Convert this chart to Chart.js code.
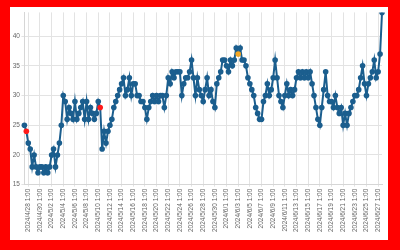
<!DOCTYPE html>
<html lang="en">
<head>
    <meta charset="UTF-8">
    <title>Series chart</title>
    <script src="https://cdn.jsdelivr.net/npm/chart.js"></script>
    <style>
        html, body {
            margin: 0;
            padding: 0;
            background: #ff0000;
            width: 400px;
            height: 250px;
            overflow: hidden;
        }
        .chart-box {
            position: absolute;
            left: 10px;
            top: 7px;
            width: 378px;
            height: 233px;
            background: #ffffff;
        }
    </style>
</head>
<body>
    <div class="chart-box">
        <canvas id="lineChart" width="378" height="233"></canvas>
    </div>

    <script>
        // readings every 8 hours, first one at 2024/4/27 9:00
        const startTime = Date.UTC(2024, 3, 27, 9);
        const stepHours = 8;

        const valuesApr = [25, 24, 22, 21, 18, 20, 18, 17, 18, 18, 17];
        const valuesMay = [
            18, 17, 18, 20, 21, 18, 20, 22, 25, 30,
            29, 26, 28, 27, 26, 29, 26, 27, 28, 29,
            26, 29, 26, 28, 27, 26, 27, 29, 28, 21,
            24, 22, 24, 25, 26, 28, 29, 30, 31, 32,
            33, 30, 31, 33, 30, 32, 32, 30, 30, 29,
            29, 28, 26, 28, 29, 30, 29, 30, 29, 30,
            30, 28, 30, 33, 32, 34, 33, 34, 34, 34,
            30, 32, 33, 33, 34, 36, 33, 30, 33, 31,
            30, 29, 31, 33, 30, 31, 29, 28, 32, 33,
            34, 36, 36
        ];
        const valuesJun = [
            35, 34, 36, 35, 36, 38, 37, 38, 36, 36,
            35, 33, 32, 31, 30, 28, 27, 26, 26, 29,
            30, 32, 30, 31, 33, 36, 33, 30, 29, 28,
            30, 32, 30, 31, 30, 31, 33, 34, 33, 34,
            33, 34, 33, 34, 32, 30, 28, 26, 25, 28,
            31, 34, 30, 29, 29, 28, 30, 28, 27, 28,
            25, 27, 25, 27, 28, 29, 30, 30, 31, 33,
            35, 32, 30, 32, 33, 34, 36, 33, 34, 37,
            44
        ];
        const values = valuesApr.concat(valuesMay, valuesJun);

        // flagged readings
        const redPoints = [1, 39];
        const orangePoints = [110];

        const labels = values.map((v, i) => {
            const d = new Date(startTime + i * stepHours * 3600 * 1000);
            return d.getUTCFullYear() + '/' + (d.getUTCMonth() + 1) + '/' + d.getUTCDate() + ' ' + d.getUTCHours() + ':00';
        });

        const blue = '#1b5e8e';
        const pointColor = (ctx) => {
            if (redPoints.includes(ctx.dataIndex)) return '#ff1a1a';
            if (orangePoints.includes(ctx.dataIndex)) return '#f5a623';
            return blue;
        };

        const tickFont = { family: 'Liberation Sans, Arial, sans-serif', size: 6.5 };

        const ctx = document.getElementById('lineChart').getContext('2d');
        const lineChart = new Chart(ctx, {
            type: 'line',
            data: {
                labels: labels,
                datasets: [{
                    data: values,
                    borderColor: blue,
                    borderWidth: 2,
                    backgroundColor: pointColor,
                    pointBackgroundColor: pointColor,
                    pointBorderColor: pointColor,
                    pointRadius: 2.8,
                    pointBorderWidth: 0,
                    tension: 0,
                    fill: false
                }]
            },
            options: {
                responsive: false,
                animation: false,
                events: [],
                layout: { padding: { left: 0, top: 3.5, right: 5.8, bottom: 0 } },
                plugins: {
                    legend: { display: false },
                    tooltip: { enabled: false }
                },
                scales: {
                    x: {
                        type: 'category',
                        offset: false,
                        afterFit: (scale) => { scale.height = 55.3; },
                        grid: { color: '#e3e3e3', tickLength: 2, lineWidth: 1 },
                        border: { color: '#d6d6d6' },
                        ticks: {
                            autoSkip: false,
                            minRotation: 90,
                            maxRotation: 90,
                            padding: 2,
                            color: '#666666',
                            font: tickFont,
                            callback: function (val, i) {
                                return i % 6 === 2 ? this.getLabelForValue(val) : null;
                            }
                        }
                    },
                    y: {
                        min: 15,
                        max: 44,
                        afterFit: (scale) => { scale.width = 14.4; },
                        grid: { color: '#e3e3e3', tickLength: 3, lineWidth: 1 },
                        border: { color: '#d6d6d6' },
                        ticks: {
                            stepSize: 5,
                            padding: 1.5,
                            color: '#666666',
                            font: tickFont,
                            callback: (v) => (v % 5 === 0 ? v : null)
                        }
                    }
                }
            }
        });
    </script>
</body>
</html>
